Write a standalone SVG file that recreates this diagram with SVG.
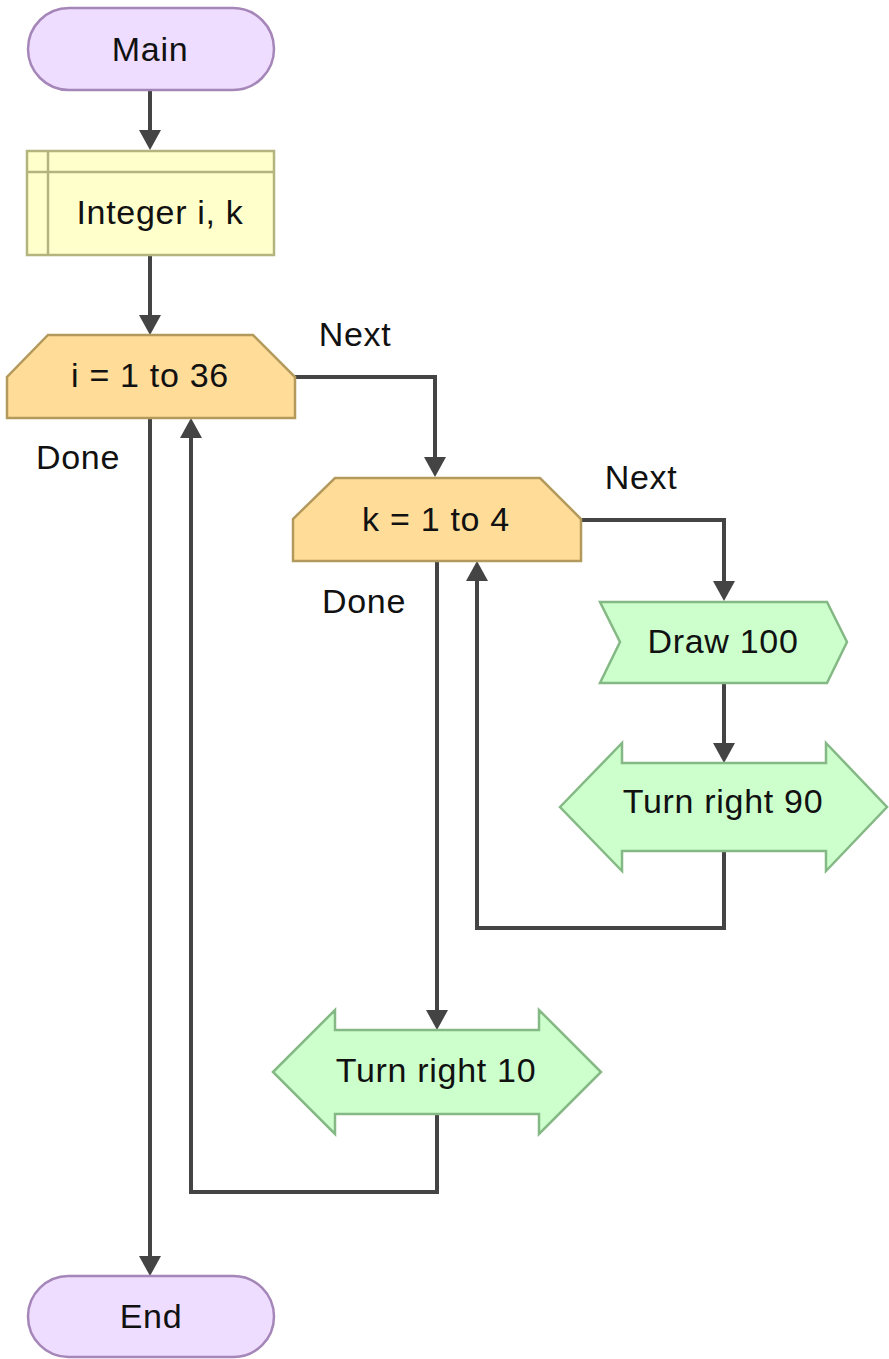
<svg xmlns="http://www.w3.org/2000/svg" width="889" height="1359" viewBox="0 0 889 1359">
  <style>
    text { font-family: "Liberation Sans", Arial, sans-serif; font-size: 34px; letter-spacing: 0.7px; fill: #111; }
    .c { text-anchor: middle; }
    .term { fill: #EEDDFF; stroke: #A586B8; stroke-width: 2.5; }
    .decl { fill: #FFFFCC; stroke: #B4B47E; stroke-width: 2.5; }
    .loop { fill: #FFDD99; stroke: #B39A5C; stroke-width: 2.5; }
    .act { fill: #CCFFCC; stroke: #84B884; stroke-width: 2.5; }
    .wire { fill: none; stroke: #444; stroke-width: 4; }
  </style>
  <defs>
    <marker id="arrow" markerUnits="userSpaceOnUse" markerWidth="20" markerHeight="22" viewBox="0 0 20 22" refX="10" refY="11" orient="auto">
      <path d="M0,0 L20,11 L0,22 z" fill="#444"/>
    </marker>
  </defs>

  <!-- connectors -->
  <g id="connectors">
    <path class="wire" d="M150,90 V140" marker-end="url(#arrow)"/>
    <path class="wire" d="M150,255 V325" marker-end="url(#arrow)"/>
    <path class="wire" d="M295,377 H435 V467" marker-end="url(#arrow)"/>
    <path class="wire" d="M580,520 H724 V591" marker-end="url(#arrow)"/>
    <path class="wire" d="M724,683 V753" marker-end="url(#arrow)"/>
    <path class="wire" d="M724,851 V928 H477 V571" marker-end="url(#arrow)"/>
    <path class="wire" d="M437,561 V1020" marker-end="url(#arrow)"/>
    <path class="wire" d="M437,1113 V1192 H191 V428" marker-end="url(#arrow)"/>
    <path class="wire" d="M150,418 V1266" marker-end="url(#arrow)"/>
    <text x="355" y="346" class="c">Next</text>
    <text x="641" y="489" class="c">Next</text>
    <text x="78" y="469" class="c">Done</text>
    <text x="364" y="613" class="c">Done</text>
  </g>

  <g id="main">
    <rect class="term" x="28" y="8" width="246" height="82" rx="41" ry="41"/>
    <text x="150" y="61" class="c">Main</text>
  </g>

  <g id="declare">
    <rect class="decl" x="27" y="151" width="247" height="104"/>
    <path d="M27,172 H274 M48,151 V255" fill="none" stroke="#B4B47E" stroke-width="2.5"/>
    <text x="160" y="224" class="c">Integer i, k</text>
  </g>

  <g id="loop-i">
    <polygon class="loop" points="48,335 253,335 295,377 295,418 7,418 7,377"/>
    <text x="150" y="387" class="c">i = 1 to 36</text>
  </g>

  <g id="loop-k">
    <polygon class="loop" points="335,478 540,478 581,519 581,561 293,561 293,519"/>
    <text x="436" y="531" class="c">k = 1 to 4</text>
  </g>

  <g id="draw">
    <polygon class="act" points="600,602 827,602 847,642 827,683 600,683 620,642"/>
    <text x="723" y="653" class="c">Draw 100</text>
  </g>

  <g id="turn90">
    <polygon class="act" points="560,807 622,743 622,763 826,763 826,743 887,807 826,871 826,851 622,851 622,871"/>
    <text x="723" y="813" class="c">Turn right 90</text>
  </g>

  <g id="turn10">
    <polygon class="act" points="273,1072 335,1010 335,1030 539,1030 539,1010 601,1072 539,1134 539,1114 335,1114 335,1134"/>
    <text x="436" y="1082" class="c">Turn right 10</text>
  </g>

  <g id="end">
    <rect class="term" x="28" y="1276" width="246" height="81" rx="40.5" ry="40.5"/>
    <text x="151" y="1328" class="c">End</text>
  </g>
</svg>
